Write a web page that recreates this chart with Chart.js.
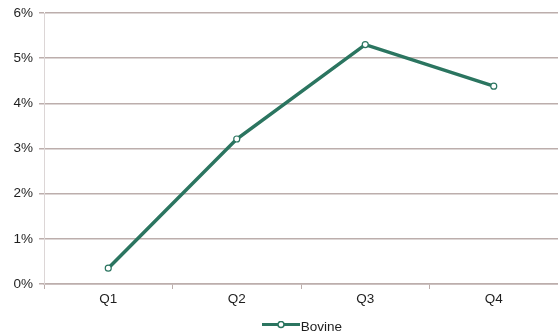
<!DOCTYPE html>
<html><head><meta charset="utf-8">
<script src="https://cdn.jsdelivr.net/npm/chart.js@4"></script>
<style>html,body{margin:0;padding:0;background:#fff}#wrap{width:558px;height:335px}</style>
</head><body><div id="wrap"><canvas id="c" width="558" height="335"></canvas></div>
<script>
const categories = ["Q1", "Q2", "Q3", "Q4"];
const bovine = [0.35, 3.21, 5.3, 4.38];
const yTicks = [0, 1, 2, 3, 4, 5, 6];

const LINE = '#2b7560';
const GRID = '#bcaeac';
const TXT = '#1e1e1e';
const FONT = 'Liberation Sans, Arial, Helvetica, sans-serif';

// legend swatch: line with open circle (drawn at right of a wider box so the legend centres on the plot)
const sw = document.createElement('canvas');
sw.width = 90; sw.height = 12;
(function(){
  const g = sw.getContext('2d');
  g.strokeStyle = LINE; g.lineWidth = 3;
  g.beginPath(); g.moveTo(52,3.5); g.lineTo(90,3.5); g.stroke();
  g.fillStyle = '#fff'; g.lineWidth = 1.5;
  g.beginPath(); g.arc(71,3.5,3,0,Math.PI*2); g.fill(); g.stroke();
})();

new Chart(document.getElementById('c'), {
  type: 'line',
  data: {
    labels: categories,
    datasets: [{
      label: 'Bovine',
      data: bovine,
      borderColor: LINE,
      borderWidth: 3.5,
      pointRadius: 3,
      pointBorderWidth: 1.2,
      pointBackgroundColor: '#fff',
      pointBorderColor: LINE,
      tension: 0
    }]
  },
  options: {
    responsive: false,
    animation: false,
    layout: { autoPadding: false, padding: { top: 13, right: 0, left: 0, bottom: -8.75 } },
    plugins: {
      tooltip: { enabled: false },
      legend: {
        position: 'bottom',
        labels: {
          font: { family: FONT, size: 13.5 },
          color: TXT,
          usePointStyle: true,
          pointStyleWidth: 78,
          boxHeight: 12,
          padding: 3,
          generateLabels: (chart) => [{
            text: 'Bovine', pointStyle: sw, fillStyle: LINE, strokeStyle: LINE,
            lineWidth: 0, datasetIndex: 0, hidden: false, fontColor: TXT
          }]
        }
      }
    },
    scales: {
      x: {
        offset: true,
        grid: { display: true, drawOnChartArea: false, color: GRID, tickLength: 5, offset: true },
        border: { display: true, color: GRID, width: 1.5 },
        ticks: { color: TXT, font: { family: FONT, size: 13.5 }, padding: 2 },
        afterFit: (s) => { s.height = 33.25; s.paddingLeft = 0; s.paddingRight = 0; }
      },
      y: {
        min: 0, max: 6,
        afterBuildTicks: (s) => { s.ticks = yTicks.map(v => ({ value: v })); },
        grid: { color: GRID, lineWidth: 1.5, tickLength: 5 },
        border: { display: true, color: '#dcd6d6', width: 1 },
        ticks: {
          color: TXT, font: { family: FONT, size: 13.5 },
          padding: 6,
          callback: (v) => v + '%'
        },
        afterFit: (s) => { s.width = 44; s.paddingTop = 0; s.paddingBottom = 0; }
      }
    }
  }
});
</script>
</body></html>
